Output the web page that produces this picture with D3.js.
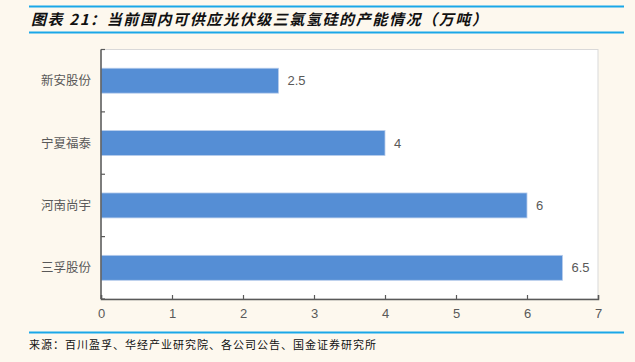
<!DOCTYPE html>
<html>
<head>
<meta charset="utf-8">
<script src="https://cdn.jsdelivr.net/npm/d3@7"></script>
<style>
  body { margin: 0; background: #fdf8ee; }
  svg { display: block; }
</style>
</head>
<body>
<div id="chart"></div>
<script>
// 当前国内可供应光伏级三氯氢硅的产能情况（万吨）
const companies = ["新安股份", "宁夏福泰", "河南尚宇", "三孚股份"];
const capacity  = [2.5, 4, 6, 6.5];
const xTicks    = [0, 1, 2, 3, 4, 5, 6, 7];

const W = 635, H = 362;
const plot = { left: 101, right: 598, top: 49.5, bottom: 299 };

const svg = d3.select("#chart").append("svg")
  .attr("width", W).attr("height", H);

svg.append("rect").attr("width", W).attr("height", H).attr("fill", "#fdf8ee");

// header / footer rules
[6.5, 32.5, 332.5].forEach(y => {
  svg.append("line")
    .attr("x1", 29).attr("x2", 624).attr("y1", y).attr("y2", y)
    .attr("stroke", "#1aa7e8").attr("stroke-width", 2);
});

svg.append("text")
  .attr("x", 31).attr("y", 25)
  .style("font-family", "'Noto Sans CJK SC', sans-serif")
  .style("font-size", "15px").style("font-weight", "bold").style("font-style", "italic")
  .style("letter-spacing", "1.6px")
  .attr("fill", "#111")
  .text("图表 21：当前国内可供应光伏级三氯氢硅的产能情况（万吨）");

svg.append("text")
  .attr("x", 29).attr("y", 349)
  .style("font-family", "'Noto Sans CJK SC', sans-serif")
  .style("font-size", "11px").style("letter-spacing", "1px")
  .attr("fill", "#111")
  .text("来源：百川盈孚、华经产业研究院、各公司公告、国金证券研究所");

// plot area
svg.append("rect")
  .attr("x", plot.left).attr("y", plot.top)
  .attr("width", plot.right - plot.left).attr("height", plot.bottom - plot.top)
  .attr("fill", "#fff").attr("stroke", "#d9d9d9");

const x = d3.scaleLinear().domain([0, 7]).range([plot.left, plot.right]);
const y = d3.scaleBand().domain(companies).range([plot.top, plot.bottom]).paddingInner(0.6).paddingOuter(0.3);

svg.selectAll(".bar")
  .data(companies)
  .join("rect")
    .attr("class", "bar")
    .attr("x", x(0))
    .attr("y", d => y(d))
    .attr("width", (d, i) => x(capacity[i]) - x(0))
    .attr("height", y.bandwidth())
    .attr("fill", "#558ed5")
    .attr("stroke", "#b8cdec").attr("stroke-width", 0.8);

svg.selectAll(".val")
  .data(companies)
  .join("text")
    .attr("class", "val")
    .attr("x", (d, i) => x(capacity[i]) + 9)
    .attr("y", d => y(d) + y.bandwidth() / 2)
    .attr("dy", "0.36em")
    .style("font-family", "Arial, 'Liberation Sans', sans-serif")
    .style("font-size", "13px")
    .attr("fill", "#595959")
    .text((d, i) => capacity[i]);

// x axis
const xAxis = svg.append("g")
  .attr("transform", `translate(0,${plot.bottom})`)
  .call(d3.axisBottom(x).tickValues(xTicks).tickFormat(d3.format("d")).tickSize(-4).tickPadding(10));
xAxis.select(".domain").attr("stroke", "#595959").attr("stroke-width", 1.5);
xAxis.selectAll(".tick line").attr("stroke", "#595959").attr("stroke-width", 1.2);
xAxis.selectAll(".tick text")
  .style("font-family", "Arial, 'Liberation Sans', sans-serif")
  .style("font-size", "13px").attr("fill", "#595959");

// y axis: ticks at band boundaries, pointing inward
const yAxis = svg.append("g").attr("transform", `translate(${plot.left},0)`);
yAxis.append("line")
  .attr("y1", plot.top).attr("y2", plot.bottom)
  .attr("stroke", "#595959").attr("stroke-width", 1.5);
yAxis.selectAll(".ytick")
  .data(d3.range(companies.length + 1))
  .join("line")
    .attr("class", "ytick")
    .attr("x1", 0).attr("x2", 4)
    .attr("y1", i => plot.top + i * (plot.bottom - plot.top) / companies.length)
    .attr("y2", i => plot.top + i * (plot.bottom - plot.top) / companies.length)
    .attr("stroke", "#595959").attr("stroke-width", 1.2);

yAxis.selectAll(".cat")
  .data(companies)
  .join("text")
    .attr("class", "cat")
    .attr("x", -10)
    .attr("y", d => y(d) + y.bandwidth() / 2)
    .attr("dy", "0.36em")
    .attr("text-anchor", "end")
    .style("font-family", "'Noto Sans CJK SC', sans-serif")
    .style("font-size", "12.5px")
    .attr("fill", "#595959")
    .text(d => d);
</script>
</body>
</html>
